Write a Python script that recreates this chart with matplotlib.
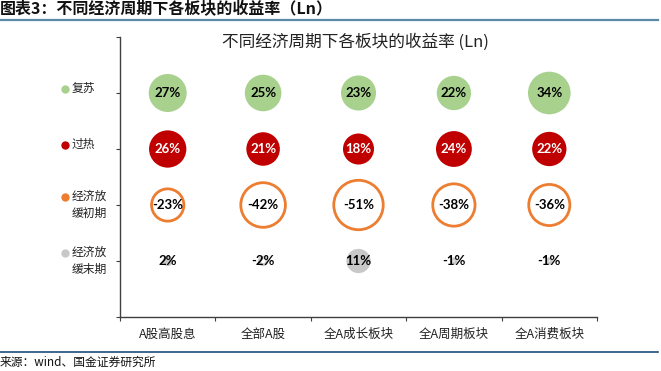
import numpy as np
import matplotlib
matplotlib.use("Agg")
import matplotlib.pyplot as plt
from matplotlib.lines import Line2D
from matplotlib.transforms import ScaledTranslation

plt.rcParams['font.family'] = ['Noto Sans CJK SC', 'DejaVu Sans']

# ---------------- data ----------------
categories = ["A股高股息", "全部A股", "全A成长板块", "全A周期板块", "全A消费板块"]
row_labels = ["复苏", "过热", "经济放\n缓初期", "经济放\n缓末期"]
recovery = [27, 25, 23, 22, 34]
overheat = [26, 21, 18, 24, 22]
early_slowdown = [-23, -42, -51, -38, -36]
late_slowdown = [2, -2, 11, -1, -1]
series = [recovery, overheat, early_slowdown, late_slowdown]
row_pos = [4, 3, 2, 1]
colors = ["#A9D18E", "#C00000", "#ED7D31", "#C8C8C8"]
text_colors = ["black", "white", "black", "black"]

title = "不同经济周期下各板块的收益率 (Ln)"
header = "图表3：不同经济周期下各板块的收益率（Ln）"
source = "来源：wind、国金证券研究所"

W, H = 661, 371
fig = plt.figure(figsize=(W / 100, H / 100), dpi=100)
ax = fig.add_axes([120 / W, 1 - 317 / H, (597 - 120) / W, (317 - 37) / H])

x = np.arange(len(categories))
ref_val, ref_diam_px = 27.0, 38.0
edge_lw = 2.0  # points

for vals, y, c, tc in zip(series, row_pos, colors, text_colors):
    v = np.array(vals, dtype=float)
    d_pt = ref_diam_px * np.sqrt(np.abs(v) / ref_val) * 0.72
    pos = v > 0
    neg = ~pos
    ax.scatter(x[pos], np.full(pos.sum(), y), s=d_pt[pos] ** 2, color=c,
               edgecolors="none", zorder=2)
    dn = np.maximum(d_pt[neg] - edge_lw, 1)
    ax.scatter(x[neg], np.full(neg.sum(), y), s=dn ** 2, facecolors="white",
               edgecolors=c, linewidths=edge_lw, zorder=2)
    for xi, vi in zip(x, vals):
        ax.text(xi, y, f"{vi}%", ha="center", va="center", fontsize=9.5,
                fontweight="bold", family=["Lato", "DejaVu Sans"],
                color=(tc if vi > 0 else "black"), zorder=3)

ax.set_xlim(-0.5, len(categories) - 0.5)
ax.set_ylim(0, 5)
for s in ["top", "right"]:
    ax.spines[s].set_visible(False)
for s in ["left", "bottom"]:
    ax.spines[s].set_color("#404040")
    ax.spines[s].set_linewidth(1.0)

ax.set_xticks(np.arange(len(categories) + 1) - 0.5)
ax.set_xticklabels([])
ax.set_xticks(x, minor=True)
ax.set_xticklabels(categories, minor=True, fontsize=9, color="#222222")
ax.tick_params(axis="x", which="major", length=3, direction="out", color="#404040")
ax.tick_params(axis="x", which="minor", length=0, pad=8)
ax.set_yticks(np.arange(6))
ax.set_yticklabels([])
ax.tick_params(axis="y", length=3, direction="out", color="#404040")

# row labels with coloured dots
ytr = ax.get_yaxis_transform()
dot_x = (65 - 120) / (597 - 120)
txt_x = (72 - 120) / (597 - 120)
for lab, y, c in zip(row_labels, row_pos, colors):
    nlines = lab.count("\n") + 1
    if nlines == 1:
        ax.annotate(lab, (txt_x, y), xycoords=ytr, xytext=(0, 3), textcoords="offset points",
                    ha="left", va="center", fontsize=8.5, color="#222222",
                    annotation_clip=False)
        dy = 3
    else:
        ax.annotate(lab, (txt_x, y), xycoords=ytr, ha="left", va="center",
                    fontsize=8.5, color="#222222", linespacing=1.45,
                    annotation_clip=False)
        dy = 6
    ax.plot([dot_x], [y], transform=ytr + ScaledTranslation(0, dy / 72, fig.dpi_scale_trans),
            marker="o", ms=6, color=c, clip_on=False, mec="none")

# chart title
fig.text(355 / W, 1 - 42 / H, title, ha="center", va="center", fontsize=12, color="#222222")

# header and footer
fig.text(0, 1 - 9 / H, header, ha="left", va="center", fontsize=11.5, fontweight="bold",
         style="italic", color="#111111")
fig.add_artist(Line2D([0, 658 / W], [1 - 20 / H] * 2, color="#5B8AA6", lw=1.6))
fig.add_artist(Line2D([0, 658 / W], [1 - 352 / H] * 2, color="#1F4E79", lw=1.2))
fig.text(0, 1 - 362 / H, source, ha="left", va="center", fontsize=8.5, color="#111111")

fig.savefig("out.png", dpi=100)
